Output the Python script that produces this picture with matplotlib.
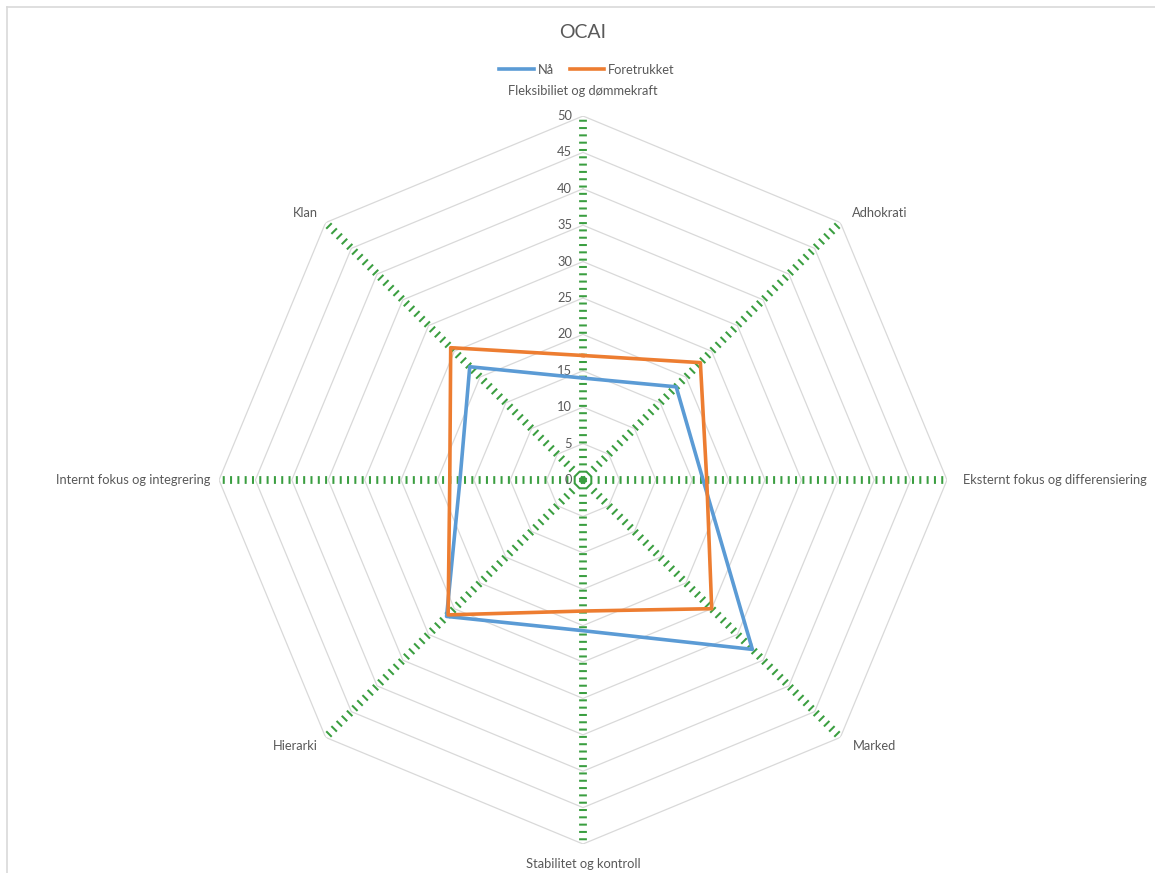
import numpy as np
import matplotlib
matplotlib.use("Agg")
import matplotlib.pyplot as plt
from matplotlib.lines import Line2D

plt.rcParams['font.family'] = ['Lato', 'DejaVu Sans']

# OCAI profile, clockwise from the top
categories = ["Fleksibiliet og dømmekraft", "Adhokrati",
              "Eksternt fokus og differensiering", "Marked",
              "Stabilitet og kontroll", "Hierarki",
              "Internt fokus og integrering", "Klan"]
naa = [14.0, 18.1, 16.5, 32.9, 20.7, 26.5, 16.9, 22.0]
foretrukket = [17.1, 22.8, 17.0, 25.0, 18.0, 26.2, 18.3, 25.7]
rticks = [0, 5, 10, 15, 20, 25, 30, 35, 40, 45, 50]

TEXT = '#595959'
GRID = '#d9d9d9'
SPOKE = '#3a9e40'
BLUE = '#5b9bd5'
ORANGE = '#ed7d31'

W, H = 1155, 873
fig = plt.figure(figsize=(W / 100, H / 100), dpi=100)

# chart frame
fig.add_artist(Line2D([7 / W, 1], [1 - 7 / H, 1 - 7 / H], color=GRID, lw=1.2))
fig.add_artist(Line2D([7 / W, 7 / W], [0, 1 - 7 / H], color=GRID, lw=1.2))

cx, cy, rad = 583, 480, 364
ax = fig.add_axes([(cx - rad) / W, (H - cy - rad) / H, 2 * rad / W, 2 * rad / H],
                  projection='polar')
ax.set_theta_zero_location('N')
ax.set_theta_direction(-1)
ax.set_ylim(0, 50)
ax.grid(False)
ax.spines['polar'].set_visible(False)
ax.set_xticks([])
ax.set_yticks([])
ax.patch.set_alpha(0)

n = len(categories)
theta = np.arange(n) * 2 * np.pi / n
theta_c = np.append(theta, theta[0])

# polygon gridlines
for r in rticks[1:]:
    ax.plot(theta_c, [r] * (n + 1), color=GRID, lw=0.9, zorder=1)

# dotted spokes
for t in theta:
    ax.plot([t, t], [0, 50], color=SPOKE, lw=5.6, ls=(0, (0.26, 0.68)),
            solid_capstyle='butt', zorder=2)

ax.plot(theta_c, naa + naa[:1], color=BLUE, lw=2.6, zorder=4, label='Nå')
ax.plot(theta_c, foretrukket + foretrukket[:1], color=ORANGE, lw=2.6, zorder=4,
        label='Foretrukket')

# value labels along the vertical axis
for r in rticks:
    ax.annotate(str(r), (0, r), xytext=(-11, 0), textcoords='offset pixels',
                ha='right', va='center', fontsize=9.3, color=TEXT)

# category labels around the outside
offsets = [(0, 25, 'center'), (12, 10, 'left'), (16, 0, 'left'), (12, -9, 'left'),
           (0, -20, 'center'), (-8, -9, 'right'), (-9, 0, 'right'), (-8, 10, 'right')]
for t, name, (dx, dy, ha) in zip(theta, categories, offsets):
    ax.annotate(name, (t, 50), xytext=(dx, dy), textcoords='offset pixels',
                ha=ha, va='center', fontsize=9.3, color=TEXT, annotation_clip=False)

fig.text(cx / W, 1 - 33 / H, "OCAI", ha='center', va='center', fontsize=14, color=TEXT)
fig.legend(loc='center', bbox_to_anchor=(587 / W, 1 - 70 / H), ncol=2, frameon=False,
           fontsize=9.3, handlelength=2.7, handletextpad=0.3, columnspacing=1.2,
           labelcolor=TEXT)

fig.savefig('out.png', dpi=100, facecolor='white')
